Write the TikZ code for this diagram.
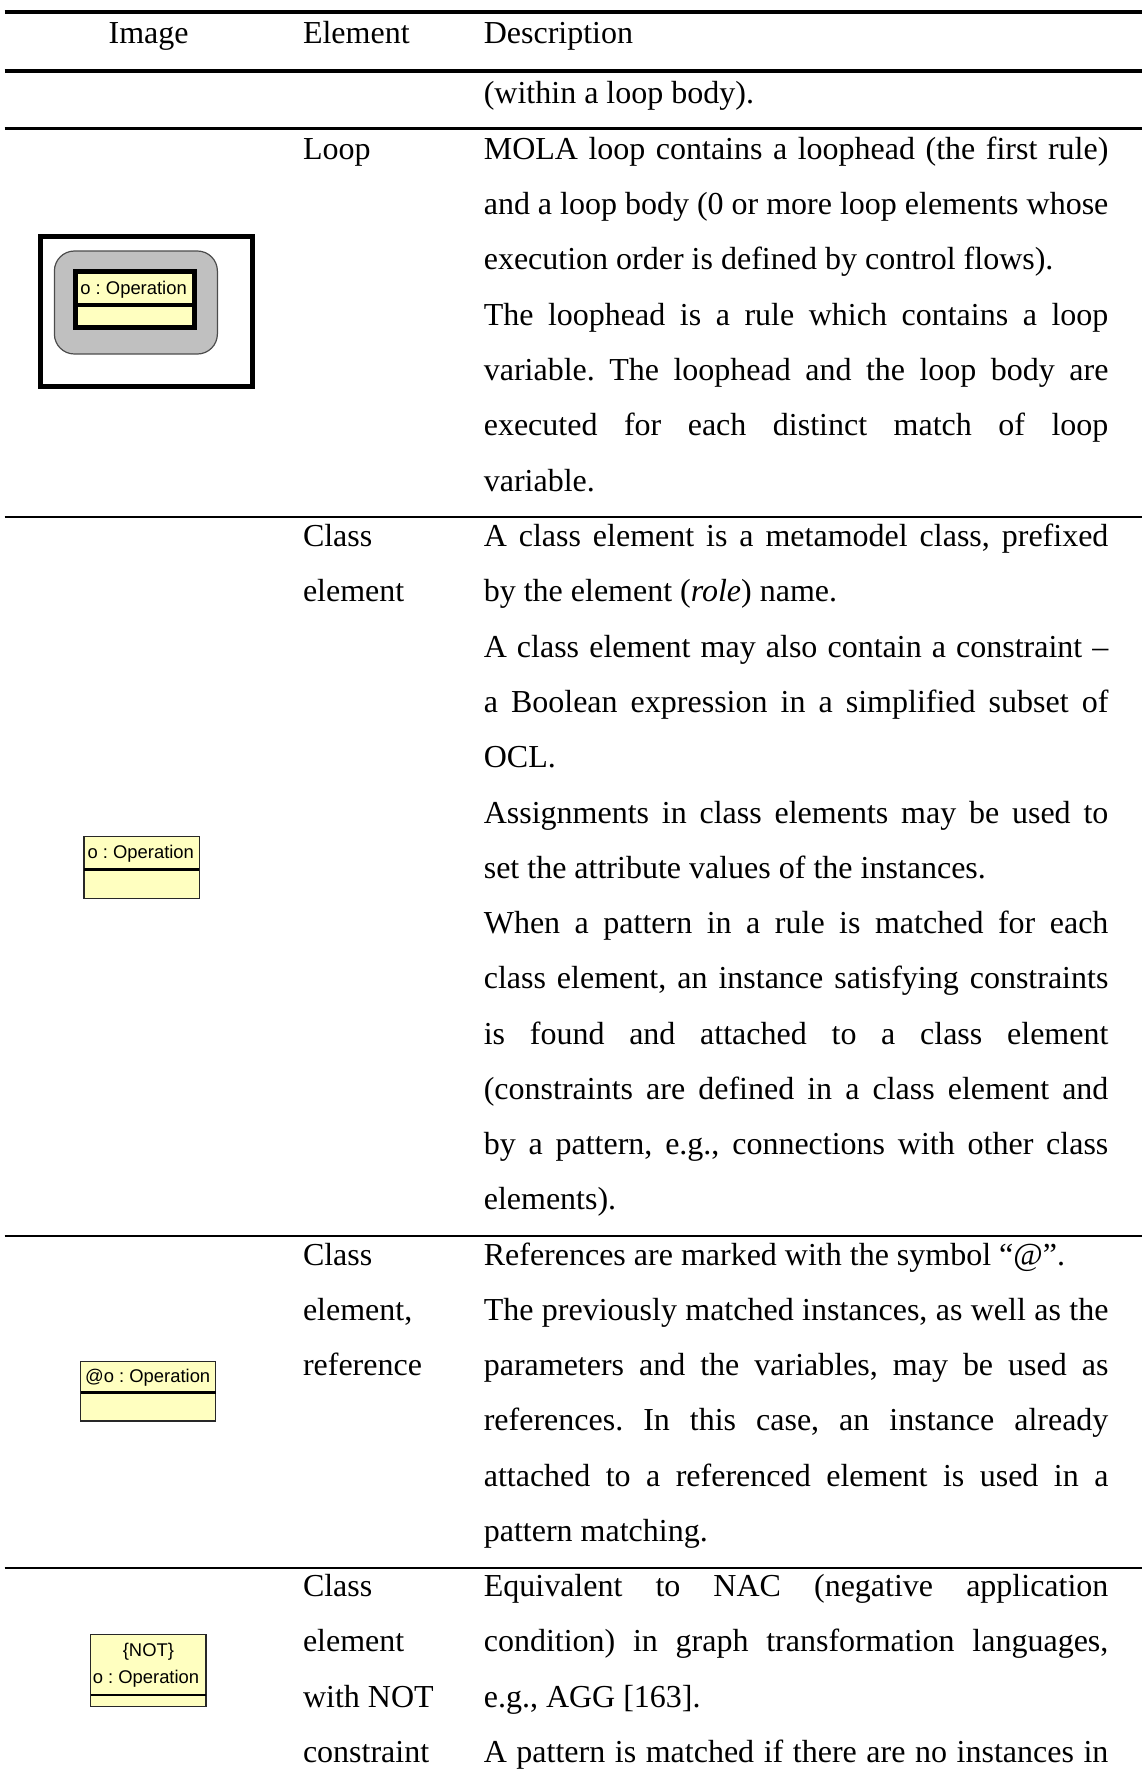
\documentclass[tikz,border=0pt]{standalone}
\usepackage{fontspec}
\setmainfont{Liberation Serif}
\newfontfamily\umlfont{Liberation Sans}
\definecolor{umlyellow}{RGB}{255,255,192}
\definecolor{loopgray}{RGB}{192,192,192}
\definecolor{umlline}{RGB}{40,40,40}
\frenchspacing
% one justified line of the description column
\newcommand{\jl}[1]{\makebox[312.3pt][s]{#1}}
\begin{document}
\begin{tikzpicture}[x=1pt,y=-1pt,
  txt/.style={anchor=base west,inner sep=0pt,font=\fontsize{16}{18}\selectfont},
  ctxt/.style={anchor=base,inner sep=0pt,font=\fontsize{16}{18}\selectfont},
  umltext/.style={inner sep=0pt,font=\umlfont\fontsize{9.2}{10}\selectfont},
  thickrule/.style={line width=2pt},
  midrule/.style={line width=1.3pt},
  thinrule/.style={line width=1pt},
  umlbox/.style={fill=umlyellow,draw=umlline,line width=0.8pt},
  umldiv/.style={draw=black,line width=1.3pt}]
\useasboundingbox (0,0) rectangle (571,892.5);

% ---- table rules ----
\draw[thickrule] (2.3,6) -- (571,6);
\draw[thickrule] (2.3,35.3) -- (571,35.3);
\draw[midrule] (2.3,64.3) -- (571,64.3);
\draw[thinrule] (2.3,258.5) -- (571,258.5);
\draw[thinrule] (2.3,617.8) -- (571,617.8);
\draw[thinrule] (2.3,783.8) -- (571,783.8);

% ---- header ----
\node[ctxt] (hImage) at (74.3,21.9) {Image};
\node[txt] (hElement) at (151.3,21.9) {Element};
\node[txt] (hDesc) at (241.7,21.9) {Description};

% ---- continued row ----
\node[txt] (c0) at (241.7,51.5) {(within a loop body).};

% ---- loop row ----
\node[txt] (eLoop) at (151.3,79.70) {Loop};
\node[txt] (l0) at (241.7,79.70) {\jl{MOLA loop contains a loophead (the first rule)}};
\node[txt] (l1) at (241.7,107.34) {\jl{and a loop body (0 or more loop elements whose}};
\node[txt] (l2) at (241.7,134.98) {execution order is defined by control flows).};
\node[txt] (l3) at (241.7,162.62) {\jl{The loophead is a rule which contains a loop}};
\node[txt] (l4) at (241.7,190.26) {\jl{variable. The loophead and the loop body are}};
\node[txt] (l5) at (241.7,217.90) {\jl{executed for each distinct match of loop}};
\node[txt] (l6) at (241.7,245.54) {variable.};

% loop icon
\draw[line width=2.5pt] (20.4,118.3) rectangle (126.25,193.2);
\draw[fill=loopgray,draw=black!70,line width=0.6pt,rounded corners=10pt]
  (27.2,125.5) rectangle (108.7,177);
\draw[fill=umlyellow,draw=black,line width=2.5pt] (37.6,135.9) rectangle (97.4,163.8);
\draw[draw=black,line width=2pt] (37.6,152.7) -- (97.4,152.7);
\node[umltext,anchor=west] (loopName) at (40.0,145) {o : Operation};

% ---- class element row ----
\node[txt] (eClass1) at (151.3,273.30) {Class};
\node[txt] (eClass2) at (151.3,300.94) {element};
\node[txt] (k0) at (241.7,273.30) {\jl{A class element is a metamodel class, prefixed}};
\node[txt] (k1) at (241.7,300.94) {by the element (\textit{role}) name.};
\node[txt] (k2) at (241.7,328.58) {\jl{A class element may also contain a constraint –}};
\node[txt] (k3) at (241.7,356.22) {\jl{a Boolean expression in a simplified subset of}};
\node[txt] (k4) at (241.7,383.86) {OCL.};
\node[txt] (k5) at (241.7,411.50) {\jl{Assignments in class elements may be used to}};
\node[txt] (k6) at (241.7,439.14) {set the attribute values of the instances.};
\node[txt] (k7) at (241.7,466.78) {\jl{When a pattern in a rule is matched for each}};
\node[txt] (k8) at (241.7,494.42) {\jl{class element, an instance satisfying constraints}};
\node[txt] (k9) at (241.7,522.06) {\jl{is found and attached to a class element}};
\node[txt] (k10) at (241.7,549.70) {\jl{(constraints are defined in a class element and}};
\node[txt] (k11) at (241.7,577.34) {\jl{by a pattern, e.g., connections with other class}};
\node[txt] (k12) at (241.7,604.98) {elements).};

% class element icon
\draw[umlbox] (42,418.3) rectangle (99.7,449.2);
\draw[umldiv] (42,434.7) -- (99.7,434.7);
\node[umltext,anchor=west] (className) at (43.6,426.7) {o : Operation};

% ---- reference row ----
\node[txt] (eRef1) at (151.3,632.50) {Class};
\node[txt] (eRef2) at (151.3,660.14) {element,};
\node[txt] (eRef3) at (151.3,687.78) {reference};
\node[txt] (r0) at (241.7,632.50) {References are marked with the symbol “@”.};
\node[txt] (r1) at (241.7,660.14) {\jl{The previously matched instances, as well as the}};
\node[txt] (r2) at (241.7,687.78) {\jl{parameters and the variables, may be used as}};
\node[txt] (r3) at (241.7,715.42) {\jl{references. In this case, an instance already}};
\node[txt] (r4) at (241.7,743.06) {\jl{attached to a referenced element is used in a}};
\node[txt] (r5) at (241.7,770.70) {pattern matching.};

% reference icon
\draw[umlbox] (40.3,680.8) rectangle (107.8,710.5);
\draw[umldiv] (40.3,696.3) -- (107.8,696.3);
\node[umltext,anchor=west] (refName) at (42.4,688.7) {@o : Operation};

% ---- NOT constraint row ----
\node[txt] (eNot1) at (151.3,798.30) {Class};
\node[txt] (eNot2) at (151.3,825.94) {element};
\node[txt] (eNot3) at (151.3,853.58) {with NOT};
\node[txt] (eNot4) at (151.3,881.22) {constraint};
\node[txt] (n0) at (241.7,798.30) {\jl{Equivalent to NAC (negative application}};
\node[txt] (n1) at (241.7,825.94) {\jl{condition) in graph transformation languages,}};
\node[txt] (n2) at (241.7,853.58) {e.g., AGG [163].};
\node[txt] (n3) at (241.7,881.22) {\jl{A pattern is matched if there are no instances in}};

% NOT icon
\draw[umlbox] (45.3,817.2) rectangle (103,853.3);
\draw[umldiv] (45.3,847.5) -- (103,847.5);
\node[umltext] (notTag) at (74.2,825.8) {\{NOT\}};
\node[umltext,anchor=west] (notName) at (46.2,839.2) {o : Operation};
\end{tikzpicture}
\end{document}
